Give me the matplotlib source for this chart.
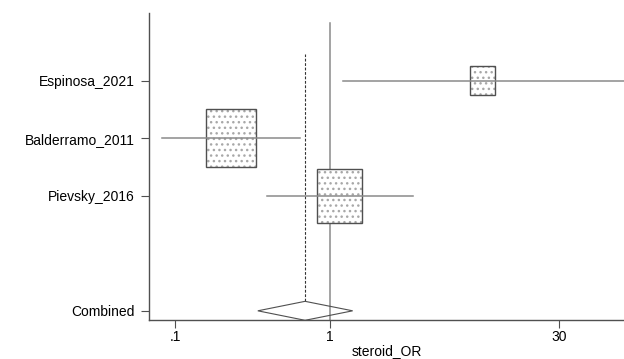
import numpy as np
import matplotlib.pyplot as plt
from matplotlib.patches import Rectangle, Polygon

plt.rcParams['font.family'] = ['Liberation Sans', 'DejaVu Sans']

# Study data (odds ratios with 95% CI, weights in %)
studies = ["Espinosa_2021", "Balderramo_2011", "Pievsky_2016"]
odds = [9.6, 0.23, 1.15]
ci_low = [1.21, 0.082, 0.39]
ci_high = [100.0, 0.64, 3.42]
weights = [11.9, 47.4, 40.7]

# Pooled estimate
pooled_or = 0.69
pooled_low = 0.342
pooled_high = 1.40

x_ticks = [0.1, 1, 30]
x_ticklabels = [".1", "1", "30"]

rows = [4, 3, 2]
combined_row = 0

fig = plt.figure(figsize=(6.24, 3.59), dpi=100)
ax = fig.add_axes([0.2388, 0.1086, 0.7612, 0.8552])
ax.set_xscale("log")
ax.set_xlim(0.0679, 78.9)
ax.set_ylim(-0.16, 5.18)

line_col = "#8a8a8a"
edge_col = "#505050"

# null line at OR = 1
ax.plot([1, 1], [-0.16, 5.0], color=line_col, lw=1.1, zorder=1)
# dashed line at pooled estimate
ax.plot([pooled_or, pooled_or], [0.165, 4.46], color="#333333", lw=0.8,
        ls=(0, (2.5, 1.5)), zorder=1)

for y, o, lo, hi, w in zip(rows, odds, ci_low, ci_high, weights):
    h = 0.1466 * np.sqrt(w)
    wlog = 0.3153 * h
    left = 10 ** (np.log10(o) - wlog / 2)
    right = 10 ** (np.log10(o) + wlog / 2)
    ax.add_patch(Rectangle((left, y - h / 2), right - left, h, facecolor="white",
                           edgecolor="#a8a8a8", hatch="...", lw=0, zorder=3))
    ax.add_patch(Rectangle((left, y - h / 2), right - left, h, facecolor="none",
                           edgecolor=edge_col, lw=1.0, zorder=4))
    # CI line drawn over the box
    ax.plot([lo, hi], [y, y], color=line_col, lw=1.1, zorder=5)

ax.add_patch(Polygon([(pooled_low, combined_row), (pooled_or, combined_row + 0.165),
                      (pooled_high, combined_row), (pooled_or, combined_row - 0.165)],
                     closed=True, facecolor="none", edgecolor=edge_col, lw=0.8, zorder=4))

ax.set_yticks(rows + [combined_row])
ax.set_yticklabels(studies + ["Combined"], fontsize=10)
ax.set_xticks(x_ticks)
ax.set_xticklabels(x_ticklabels, fontsize=10)
ax.minorticks_off()
ax.tick_params(axis="both", length=6, width=0.8, color=edge_col)
ax.tick_params(axis="y", pad=4)
ax.tick_params(axis="x", pad=1)
ax.set_xlabel("steroid_OR", fontsize=10, labelpad=0)

for s in ["top", "right"]:
    ax.spines[s].set_visible(False)
for s in ["left", "bottom"]:
    ax.spines[s].set_color(edge_col)
    ax.spines[s].set_linewidth(1.0)

fig.savefig("out.png", dpi=100)
